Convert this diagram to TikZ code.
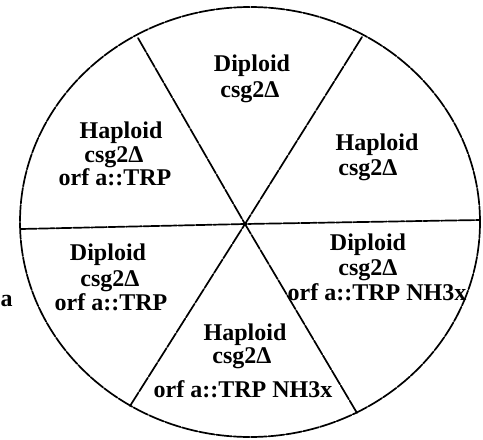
\documentclass[tikz,border=0pt]{standalone}
\usepackage{fontspec}
\setmainfont{Liberation Serif}
\begin{document}
\begin{tikzpicture}[x=1pt,y=-1pt,
  rim/.style={line width=1.7pt,dash pattern=on 16pt off 1.5pt,line cap=round},
  lbl/.style={anchor=base,inner sep=0pt,font=\fontsize{24}{26}\selectfont\bfseries}]
\useasboundingbox (0,0) rectangle (483,440);
% geometry
\coordinate (c) at (250,222);
\coordinate (hub) at (245,224);
\coordinate (eL) at (21,229);
\coordinate (eR) at (480,220);
\coordinate (eUL) at (138,38);
\coordinate (eUR) at (362,37);
\coordinate (eLL) at (130,406);
\coordinate (eLR) at (357,413);
\draw[rim] (c) ellipse [x radius=230pt, y radius=215pt];
\draw[rim] (eL) -- (hub) -- (eR);
\draw[rim] (eUL) -- (hub) -- (eLR);
\draw[rim] (eUR) -- (hub) -- (eLL);
% top sector
\node[lbl] (t1) at (252,71) {Diploid};
\node[lbl] (t2) at (250,97) {csg2Δ};
% upper right sector
\node[lbl] (ur1) at (377,150) {Haploid};
\node[lbl] (ur2) at (368,175) {csg2Δ};
% upper left sector
\node[lbl] (ul1) at (121,138) {Haploid};
\node[lbl] (ul2) at (114,162) {csg2Δ};
\node[lbl] (ul3) at (115,185) {orf a::TRP};
% lower left sector
\node[lbl] (ll1) at (108,260) {Diploid};
\node[lbl] (ll2) at (110,286) {csg2Δ};
\node[lbl] (ll3) at (111,310) {orf a::TRP};
% lower right sector
\node[lbl] (lr1) at (368,250) {Diploid};
\node[lbl] (lr2) at (368,275) {csg2Δ};
\node[lbl] (lr3) at (377,300) {orf a::TRP NH3x};
% bottom sector
\node[lbl] (b1) at (245,340) {Haploid};
\node[lbl] (b2) at (242,363) {csg2Δ};
\node[lbl] (b3) at (243,397) {orf a::TRP NH3x};
% side letter
\node[lbl,anchor=base west] (lettera) at (0.5,306) {a};
\end{tikzpicture}
\end{document}
